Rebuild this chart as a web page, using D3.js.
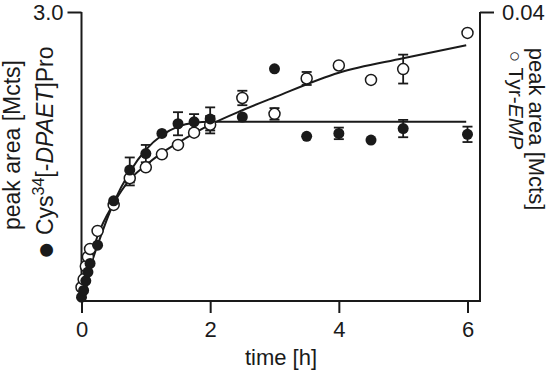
<!DOCTYPE html>
<html>
<head>
<meta charset="utf-8">
<script src="https://cdn.jsdelivr.net/npm/d3@7"></script>
<style>
  body { margin: 0; background: #fff; }
  text { font-family: "Liberation Sans", Arial, sans-serif; fill: #1a1a1a; }
</style>
</head>
<body>
<div id="chart"></div>
<script>
// sampling times [h]
var times = [0, 0.033, 0.067, 0.1, 0.133, 0.25, 0.5, 0.75, 1, 1.25, 1.5, 1.75, 2, 2.5, 3, 3.5, 4, 4.5, 5, 6];
// Cys34[-DPAET]Pro, left axis [Mcts]
var cysValues = [0.04, 0.11, 0.21, 0.30, 0.39, 0.58, 1.04, 1.36, 1.53, 1.74, 1.84, 1.86, 1.89, 1.91, 2.41, 1.71, 1.74, 1.67, 1.79, 1.73];
var cysErr    = [0, 0, 0, 0, 0, 0, 0, 0.13, 0.09, 0, 0.12, 0.08, 0.12, 0, 0, 0, 0.06, 0, 0.09, 0.08];
// Tyr-EMP, right axis [Mcts]
var tyrValues = [0.0019, 0.0030, 0.0048, 0.0061, 0.0072, 0.0097, 0.0133, 0.0170, 0.0185, 0.0203, 0.0216, 0.0233, 0.0244, 0.0281, 0.0259, 0.0308, 0.0326, 0.0306, 0.0321, 0.0371];
var tyrErr    = [0, 0, 0, 0, 0, 0, 0, 0.001, 0, 0, 0, 0, 0.0012, 0.001, 0.0008, 0.0009, 0, 0, 0.002, 0];
// fitted curves
var fitTimes = [0, 0.125, 0.25, 0.5, 0.75, 1, 1.25, 1.5, 1.75, 2, 2.5, 3, 4, 5, 5.98];
var cysFit   = [0.03, 0.33, 0.58, 1.02, 1.34, 1.57, 1.72, 1.81, 1.85, 1.86, 1.86, 1.86, 1.86, 1.86, 1.86];
var tyrFit   = [0.0015, 0.0055, 0.0090, 0.0135, 0.0168, 0.0188, 0.0205, 0.0219, 0.0232, 0.0244, 0.0264, 0.0282, 0.0316, 0.0336, 0.0354];
// tick labels
var xTicks = [0, 2, 4, 6];
var leftTicks = [3.0];
var rightTicks = [0.04];

var width = 550, height = 373;
var ink = "#1a1a1a";
var fs = 22;

var svg = d3.select("#chart").append("svg")
  .attr("width", width)
  .attr("height", height);

var x = d3.scaleLinear().domain([0, 6]).range([81.5, 467.5]);
var yL = d3.scaleLinear().domain([0, 3]).range([301, 12]);
var yR = d3.scaleLinear().domain([0, 0.04]).range([301, 12]);
var boxRight = 480;

// frame: left, bottom, right lines
svg.append("path")
  .attr("d", "M" + x(0) + "," + yL(3) + "V" + yL(0) + "H" + boxRight + "V" + yR(0.04))
  .attr("fill", "none")
  .attr("stroke", ink)
  .attr("stroke-width", 2);

// x axis
var gx = svg.append("g")
  .attr("transform", "translate(0," + yL(0) + ")")
  .call(d3.axisBottom(x).tickValues(xTicks).tickSize(12).tickPadding(8).tickFormat(d3.format("d")));
gx.select(".domain").remove();

// left axis
var gl = svg.append("g")
  .attr("transform", "translate(" + x(0) + ",0)")
  .call(d3.axisLeft(yL).tickValues(leftTicks).tickSize(14).tickPadding(4).tickFormat(d3.format(".1f")));
gl.select(".domain").remove();

// right axis
var gr = svg.append("g")
  .attr("transform", "translate(" + boxRight + ",0)")
  .call(d3.axisRight(yR).tickValues(rightTicks).tickSize(14).tickPadding(8).tickFormat(d3.format(".2f")));
gr.select(".domain").remove();

svg.selectAll(".tick line").attr("stroke", ink).attr("stroke-width", 2);
svg.selectAll(".tick text")
  .style("font-size", fs + "px")
  .style("font-family", "'Liberation Sans', Arial, sans-serif")
  .attr("fill", ink);

// fitted curves
var lineCys = d3.line()
  .x(function(d, i) { return x(fitTimes[i]); })
  .y(function(d) { return yL(d); })
  .curve(d3.curveMonotoneX);
var lineTyr = d3.line()
  .x(function(d, i) { return x(fitTimes[i]); })
  .y(function(d) { return yR(d); })
  .curve(d3.curveMonotoneX);

svg.append("path").datum(cysFit)
  .attr("d", lineCys).attr("fill", "none").attr("stroke", ink).attr("stroke-width", 2);
svg.append("path").datum(tyrFit)
  .attr("d", lineTyr).attr("fill", "none").attr("stroke", ink).attr("stroke-width", 2);

// error bars
function errorBars(vals, errs, yScale) {
  var g = svg.append("g").attr("stroke", ink).attr("stroke-width", 1.8);
  times.forEach(function(t, i) {
    if (!errs[i]) return;
    var cx = x(t), y0 = yScale(vals[i] - errs[i]), y1 = yScale(vals[i] + errs[i]);
    g.append("line").attr("x1", cx).attr("x2", cx).attr("y1", y0).attr("y2", y1);
    g.append("line").attr("x1", cx - 5).attr("x2", cx + 5).attr("y1", y0).attr("y2", y0);
    g.append("line").attr("x1", cx - 5).attr("x2", cx + 5).attr("y1", y1).attr("y2", y1);
  });
}
errorBars(tyrValues, tyrErr, yR);
errorBars(cysValues, cysErr, yL);

// open circles: Tyr-EMP
svg.append("g").selectAll("circle")
  .data(tyrValues)
  .enter().append("circle")
  .attr("cx", function(d, i) { return x(times[i]); })
  .attr("cy", function(d) { return yR(d); })
  .attr("r", 5.5)
  .attr("fill", "#fff")
  .attr("stroke", ink)
  .attr("stroke-width", 1.5);

// filled circles: Cys34[-DPAET]Pro
svg.append("g").selectAll("circle")
  .data(cysValues)
  .enter().append("circle")
  .attr("cx", function(d, i) { return x(times[i]); })
  .attr("cy", function(d) { return yL(d); })
  .attr("r", 5.5)
  .attr("fill", ink);

// axis titles
svg.append("text")
  .attr("x", 281).attr("y", 365)
  .attr("text-anchor", "middle")
  .style("font-size", fs + "px")
  .text("time [h]");

svg.append("text")
  .attr("transform", "translate(20,145) rotate(-90)")
  .attr("text-anchor", "middle")
  .style("font-size", "23px")
  .text("peak area [Mcts]");

var t2 = svg.append("text")
  .attr("transform", "translate(53,153) rotate(-90)")
  .attr("text-anchor", "middle")
  .style("font-size", "23px");
t2.append("tspan").style("font-size", "30px").attr("dy", 2).text("\u25CF");
t2.append("tspan").attr("dy", -2).text(" Cys");
t2.append("tspan").attr("dy", -9).style("font-size", "16px").text("34");
t2.append("tspan").attr("dy", 9).text("[-");
t2.append("tspan").style("font-style", "italic").text("DPAET");
t2.append("tspan").text("]Pro");

svg.append("text")
  .attr("transform", "translate(529,129) rotate(90)")
  .attr("text-anchor", "middle")
  .style("font-size", "22px")
  .text("peak area [Mcts]");

var t4 = svg.append("text")
  .attr("transform", "translate(509,100) rotate(90)")
  .attr("text-anchor", "middle")
  .style("font-size", "21px");
t4.append("tspan").style("font-size", "19px").text("\u25CB ");
t4.append("tspan").text("Tyr-");
t4.append("tspan").style("font-style", "italic").text("EMP");
</script>
</body>
</html>
